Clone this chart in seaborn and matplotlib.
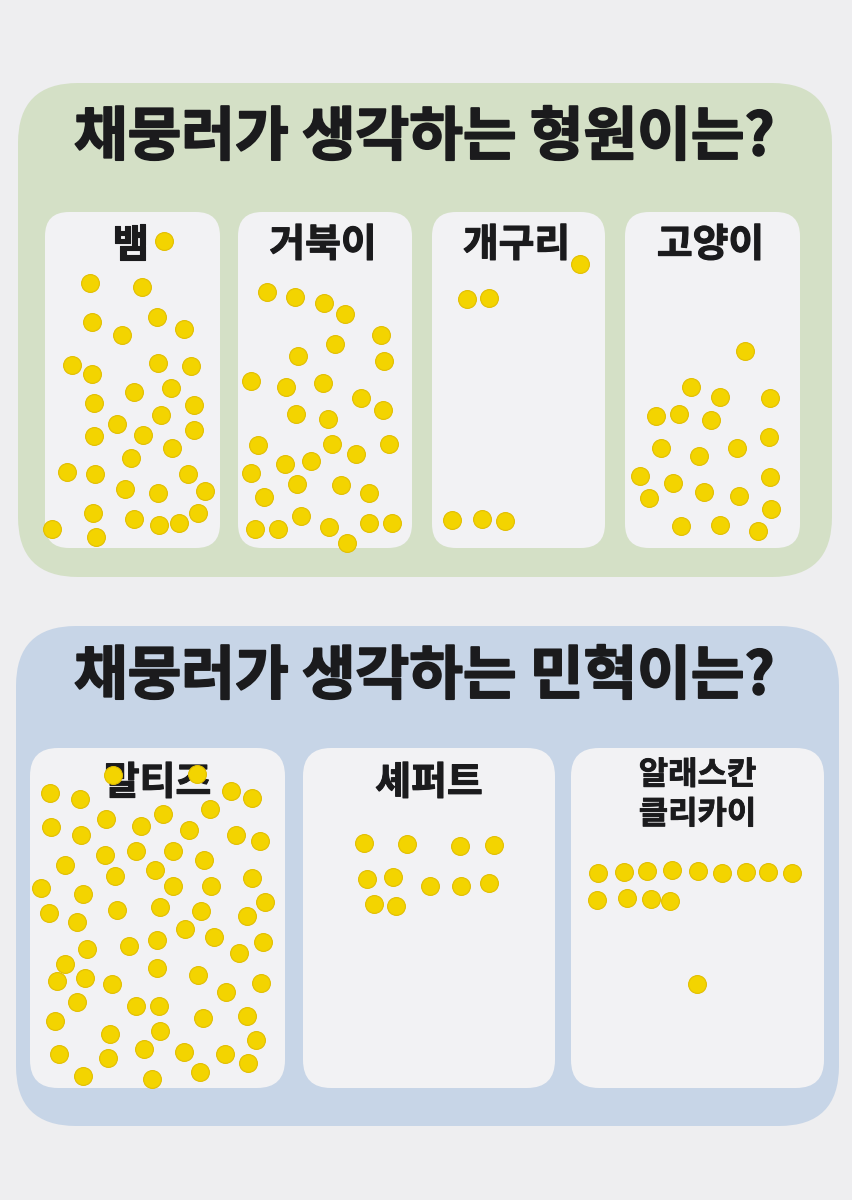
"""Sticker poll poster: 채뭉러가 생각하는 형원이는? / 민혁이는?"""

import pandas as pd
import matplotlib.pyplot as plt
import seaborn as sns
from matplotlib.patches import FancyBboxPatch
import matplotlib.patheffects as pe

# sticker positions (poster pixels)
snake_x = [164, 90, 142, 92, 157, 122, 184, 72, 92, 158, 191, 134, 171, 94, 194, 161, 117, 94,
           143, 194, 172, 131, 67, 95, 188, 125, 158, 205, 93, 134, 159, 179, 198, 52, 96]
snake_y = [241, 283, 287, 322, 317, 335, 329, 365, 374, 363, 366, 392, 388, 403, 405, 415, 424, 436,
           435, 430, 448, 458, 472, 474, 474, 489, 493, 491, 513, 519, 525, 523, 513, 529, 537]

turtle_x = [267, 295, 324, 345, 381, 335, 298, 384, 251, 286, 323, 361, 383, 296, 328, 258, 332,
            389, 356, 285, 311, 251, 297, 341, 369, 264, 301, 255, 278, 329, 369, 392, 347]
turtle_y = [292, 297, 303, 314, 335, 344, 356, 361, 381, 387, 383, 398, 410, 414, 419, 445, 444,
            444, 454, 464, 461, 473, 484, 485, 493, 497, 516, 529, 529, 527, 523, 523, 543]

frog_x = [580, 467, 489, 452, 482, 505]
frog_y = [264, 299, 298, 520, 519, 521]

cat_x = [745, 691, 720, 770, 656, 679, 711, 769, 661, 699, 737, 640, 673, 704, 739, 770, 649,
         771, 681, 720, 758]
cat_y = [351, 387, 397, 398, 416, 414, 420, 437, 448, 456, 448, 476, 483, 492, 496, 477, 498,
         509, 526, 525, 531]

maltese_x = [50, 80, 113, 197, 231, 252, 51, 81, 106, 141, 163, 210, 189, 236, 260, 65, 105, 136,
             173, 204, 115, 155, 41, 83, 173, 211, 252, 265, 49, 77, 117, 160, 201, 247, 185, 214,
             87, 129, 157, 239, 263, 65, 57, 85, 112, 157, 198, 77, 136, 159, 226, 261, 55, 110,
             160, 203, 247, 256, 59, 108, 144, 184, 225, 248, 83, 152, 200]
maltese_y = [793, 799, 775, 774, 791, 798, 827, 835, 819, 826, 814, 809, 830, 835, 841, 865, 855, 851,
             851, 860, 876, 870, 888, 894, 886, 886, 878, 902, 913, 922, 910, 907, 911, 916, 929, 937,
             949, 946, 940, 953, 942, 964, 981, 978, 984, 968, 975, 1002, 1006, 1006, 992, 983, 1021,
             1034, 1031, 1018, 1016, 1040, 1054, 1058, 1049, 1052, 1054, 1063, 1076, 1079, 1072]

shepherd_x = [364, 407, 460, 494, 367, 393, 430, 461, 489, 374, 396]
shepherd_y = [843, 844, 846, 845, 879, 877, 886, 886, 883, 904, 906]

malamute_x = [598, 624, 647, 672, 698, 722, 746, 768, 792, 597, 627, 651, 670, 697]
malamute_y = [873, 872, 871, 870, 871, 873, 872, 872, 873, 900, 898, 899, 901, 984]

titles = ["채뭉러가 생각하는 형원이는?", "채뭉러가 생각하는 민혁이는?"]
top_labels = ["뱀", "거북이", "개구리", "고양이"]
bottom_labels = ["말티즈", "셰퍼트", "알래스칸\n클리카이"]

sns.set_style("white")
plt.rcParams["font.family"] = ["Noto Sans CJK KR", "DejaVu Sans"]

frames = []
for name, xs, ys in [
    ("뱀", snake_x, snake_y), ("거북이", turtle_x, turtle_y), ("개구리", frog_x, frog_y),
    ("고양이", cat_x, cat_y), ("말티즈", maltese_x, maltese_y),
    ("셰퍼트", shepherd_x, shepherd_y), ("알래스칸 클리카이", malamute_x, malamute_y),
]:
    frames.append(pd.DataFrame({"x": xs, "y": ys, "animal": name}))
stickers = pd.concat(frames, ignore_index=True)

fig = plt.figure(figsize=(8.53, 12), dpi=100, facecolor="#eeeef0")
ax = fig.add_axes([0, 0, 1, 1])
ax.set_xlim(0, 853)
ax.set_ylim(1200, 0)
ax.axis("off")

ink = "#1b1b1d"


def heavy(lw):
    # thicken the bold face a little, like the rounded poster font
    return [pe.withStroke(linewidth=lw, foreground=ink, capstyle="round", joinstyle="round")]


def box(x0, y0, x1, y1, r, color):
    ax.add_patch(FancyBboxPatch((x0, y0), x1 - x0, y1 - y0,
                                boxstyle=f"round,pad=0,rounding_size={r}",
                                fc=color, ec="none", zorder=1))


# sections
box(18, 83, 832, 577, 60, "#d4e0c6")
box(16, 626, 839, 1126, 60, "#c7d5e7")

# top panels
top_bounds = [(45, 220), (238, 412), (432, 605), (625, 800)]
for (x0, x1), label in zip(top_bounds, top_labels):
    box(x0, 212, x1, 548, 24, "#f2f2f4")
    ax.text((x0 + x1) / 2 - 2, 245, label, ha="center", va="center", fontsize=28,
            fontweight="bold", color=ink, zorder=2, path_effects=heavy(0.8))

# bottom panels
bottom_bounds = [(30, 285), (303, 555), (571, 824)]
for (x0, x1), label in zip(bottom_bounds, bottom_labels):
    box(x0, 748, x1, 1088, 28, "#f2f2f4")
    two = "\n" in label
    ax.text((x0 + x1) / 2, 795 if two else 783, label, ha="center", va="center",
            fontsize=23 if two else 28, fontweight="bold", color=ink,
            linespacing=1.3, zorder=2, path_effects=heavy(0.6 if two else 0.8))

ax.text(424, 138, titles[0], ha="center", va="center", fontsize=42,
        fontweight="bold", color=ink, zorder=2, path_effects=heavy(1.3))
ax.text(424, 677, titles[1], ha="center", va="center", fontsize=42,
        fontweight="bold", color=ink, zorder=2, path_effects=heavy(1.3))

sns.scatterplot(data=stickers, x="x", y="y", color="#f3d400", edgecolor="#e2be00",
                linewidth=0.8, s=165, legend=False, ax=ax, zorder=5)
ax.set_xlim(0, 853)
ax.set_ylim(1200, 0)
ax.axis("off")

fig.savefig("out.png", dpi=100, facecolor=fig.get_facecolor())
